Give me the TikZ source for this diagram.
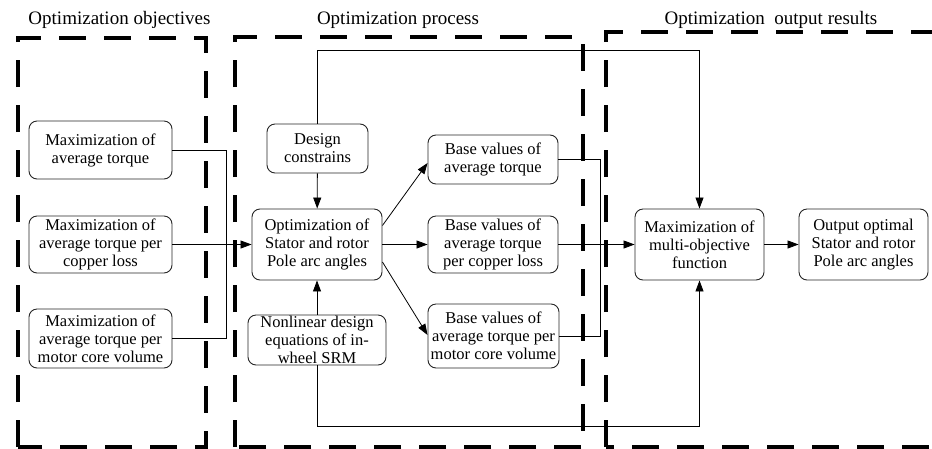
\documentclass[tikz,border=0pt]{standalone}
\usepackage{fontspec}
\setmainfont{Liberation Serif}
\usetikzlibrary{arrows.meta}
\tikzset{
  box/.style={draw=black!85, line width=0.9pt, rounded corners=8pt, align=center,
    inner sep=0pt, font=\fontsize{16.5}{18}\selectfont},
  region/.style={draw=black, line width=3.8pt, dash pattern=on 27pt off 18pt},
  conn/.style={draw=black, line width=0.8pt},
  arr/.style={conn, -{Triangle[length=11pt,width=8pt]}},
  title/.style={font=\fontsize{19}{22}\selectfont, inner sep=0pt}
}
\begin{document}
\begin{tikzpicture}[x=1pt,y=-1pt]
\useasboundingbox (0,0) rectangle (932,448);
\clip (0,0) rectangle (932,448);
% titles
\node[title] (t1) at (119.5,20) {Optimization objectives};
\node[title] (t2) at (398,20) {Optimization process};
\node[title] (t3) at (771,20) {Optimization\ \ output results};
% dashed regions
\draw[region] (18,447) -- (18,38) -- (206,38) -- (206,447) -- cycle;
\draw[region] (235,447) -- (235,37) -- (583,37) -- (583,447) -- cycle;
\draw[region] (606,447) -- (606,32) -- (960,32) -- (960,447) -- cycle;
% nodes
\node[box, minimum width=143pt, minimum height=58pt] (o1) at (100.5,150) {Maximization of\\average torque};
\node[box, minimum width=143pt, minimum height=57pt] (o2) at (100.5,244.5) {Maximization of\\average torque per\\copper loss};
\node[box, minimum width=143pt, minimum height=59pt] (o3) at (100.5,338.5) {Maximization of\\average torque per\\motor core volume};
\node[box, minimum width=101pt, minimum height=49pt] (dc) at (317.5,148.5) {Design\\constrains};
\node[box, minimum width=130pt, minimum height=71pt] (op) at (317,244.5) {Optimization of\\Stator and rotor\\Pole arc angles};
\node[box, minimum width=138pt, minimum height=50pt] (nl) at (317,340) {Nonlinear design\\equations of in-\\wheel SRM};
\node[box, minimum width=130pt, minimum height=49pt] (b1) at (493,159.5) {Base values of\\average torque};
\node[box, minimum width=130pt, minimum height=57pt] (b2) at (493,244.5) {Base values of\\average torque\\per copper loss};
\node[box, minimum width=131pt, minimum height=64pt] (b3) at (493.5,336) {Base values of\\average torque per\\motor core volume};
\node[box, minimum width=129pt, minimum height=71pt] (mx) at (699.5,244.5) {Maximization of\\multi-objective\\function};
\node[box, minimum width=129pt, minimum height=71pt] (ou) at (863.5,244.5) {Output optimal\\Stator and rotor\\Pole arc angles};
% connectors
\coordinate (jL) at (226,244.5);
\draw[conn] (o1.east |- 0,150) -| (jL);
\draw[conn] (o3.east |- 0,338) -| (jL);
\draw[arr] (o2.east) -- (op.west);
\draw[arr] (dc) -- (op);
\draw[arr] (nl) -- (op);
\draw[arr] ([yshift=19pt]op.east) -- ([yshift=-3.5pt]b1.west);
\draw[arr] (op.east) -- (b2.west);
\draw[arr] ([yshift=-17.5pt]op.east) -- ([yshift=1pt]b3.west);
\coordinate (jR) at (600,244.5);
\draw[conn] (b1.east) -| (jR);
\draw[conn] (b3.east) -| (jR);
\draw[arr] (b2.east) -- (mx.west);
\draw[arr] (dc.north) -- (317.5,50) -| (mx.north);
\draw[arr] (nl.south) -- (317,426) -| (mx.south);
\draw[arr] (mx.east) -- (ou.west);
\end{tikzpicture}
\end{document}
